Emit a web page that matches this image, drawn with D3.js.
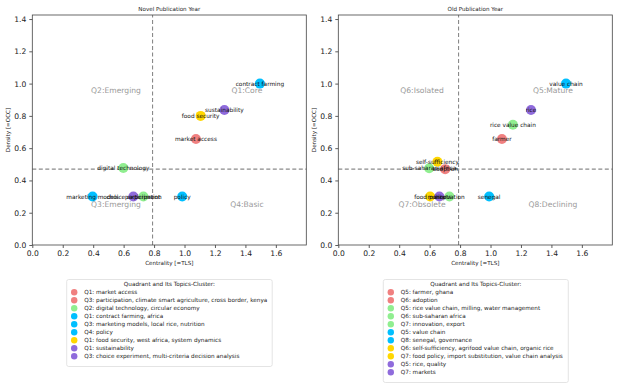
<!DOCTYPE html>
<html>
<head>
<meta charset="utf-8">
<script src="https://cdn.jsdelivr.net/npm/d3@7/dist/d3.min.js"></script>
<style>
  body { margin: 0; background: #fff; }
  svg text { font-family: "DejaVu Sans", sans-serif; }
</style>
</head>
<body>
<script>
// ---- data: Novel Publication Year ----
const novelLabels = ['market access', 'participation', 'digital technology', 'contract farming',
  'marketing models', 'policy', 'food security', 'sustainability', 'choice experiment'];
const novelX = [1.075, 0.73, 0.598, 1.495, 0.396, 0.985, 1.106, 1.262, 0.664];
const novelY = [0.657, 0.30, 0.477, 1.0, 0.30, 0.30, 0.80, 0.836, 0.30];
const novelGroup = ['red', 'green', 'green', 'blue', 'blue', 'blue', 'gold', 'purple', 'purple'];
const novelLegend = ['Q1: market access', 'Q3: participation, climate smart agriculture, cross border, kenya',
  'Q2: digital technology, circular economy', 'Q1: contract farming, africa',
  'Q3: marketing models, local rice, nutrition', 'Q4: policy',
  'Q1: food security, west africa, system dynamics', 'Q1: sustainability',
  'Q3: choice experiment, multi-criteria decision analysis'];
const novelLegendGroup = ['red', 'red', 'green', 'blue', 'blue', 'blue', 'gold', 'purple', 'purple'];
const novelQuads = ['Q2:Emerging', 'Q1:Core', 'Q3:Emerging', 'Q4:Basic'];

// ---- data: Old Publication Year ----
const oldLabels = ['farmer', 'adoption', 'rice value chain', 'sub-saharan africa', 'innovation',
  'value chain', 'senegal', 'self-sufficiency', 'food policy', 'rice', 'markets'];
const oldX = [1.075, 0.702, 1.147, 0.597, 0.73, 1.496, 0.991, 0.651, 0.603, 1.266, 0.664];
const oldY = [0.657, 0.47, 0.745, 0.475, 0.30, 1.0, 0.30, 0.516, 0.30, 0.836, 0.30];
const oldGroup = ['red', 'red', 'green', 'green', 'green', 'blue', 'blue', 'gold', 'gold', 'purple', 'purple'];
const oldLegend = ['Q5: farmer, ghana', 'Q6: adoption', 'Q5: rice value chain, milling, water management',
  'Q6: sub-saharan africa', 'Q7: innovation, export', 'Q5: value chain', 'Q8: senegal, governance',
  'Q6: self-sufficiency, agrifood value chain, organic rice',
  'Q7: food policy, import substitution, value chain analysis', 'Q5: rice, quality', 'Q7: markets'];
const oldLegendGroup = ['red', 'red', 'green', 'green', 'green', 'blue', 'blue', 'gold', 'gold', 'purple', 'purple'];
const oldQuads = ['Q6:Isolated', 'Q5:Mature', 'Q7:Obsolete', 'Q8:Declining'];

const xTicks = [0, 0.2, 0.4, 0.6, 0.8, 1.0, 1.2, 1.4, 1.6];
const yTicks = [0, 0.2, 0.4, 0.6, 0.8, 1.0, 1.2, 1.4];
const xSplit = 0.79, ySplit = 0.47;

const color = d3.scaleOrdinal()
  .domain(['red', 'green', 'blue', 'gold', 'purple'])
  .range(['#f08080', '#90ee90', '#00bfff', '#ffd700', '#8f6bdc']);

const svg = d3.select('body').append('svg')
  .attr('width', 620)
  .attr('height', 385);

function drawPanel(p) {
  const x = d3.scaleLinear().domain([0, 1.8]).range([p.left, p.left + 274]);
  const y = d3.scaleLinear().domain([0, 1.425]).range([245, 15]);
  const g = svg.append('g');

  // dashed split lines
  g.append('line')
    .attr('x1', x(xSplit)).attr('x2', x(xSplit))
    .attr('y1', y(0)).attr('y2', y(1.425))
    .attr('stroke', '#8a8a8a').attr('stroke-width', 1.1).attr('stroke-dasharray', '4,2.5');
  g.append('line')
    .attr('x1', x(0)).attr('x2', x(1.8))
    .attr('y1', y(ySplit)).attr('y2', y(ySplit))
    .attr('stroke', '#8a8a8a').attr('stroke-width', 1.1).attr('stroke-dasharray', '4,2.5');

  // quadrant names
  const qPos = [[0.55, 0.96], [1.41, 0.96], [0.55, 0.25], [1.41, 0.25]];
  g.selectAll('.quad').data(p.quads).enter().append('text')
    .attr('x', (d, i) => x(qPos[i][0]))
    .attr('y', (d, i) => y(qPos[i][1]))
    .attr('text-anchor', 'middle').attr('dominant-baseline', 'central')
    .attr('font-size', 7.6).attr('fill', '#999')
    .text(d => d);

  const pts = p.labels.map((l, i) => ({ l, x: p.xs[i], y: p.ys[i], c: p.group[i] }));
  g.selectAll('circle.pt').data(pts).enter().append('circle')
    .attr('class', 'pt')
    .attr('cx', d => x(d.x)).attr('cy', d => y(d.y))
    .attr('r', 5)
    .attr('fill', d => color(d.c));
  g.selectAll('.lbl').data(pts).enter().append('text')
    .attr('x', d => x(d.x)).attr('y', d => y(d.y))
    .attr('text-anchor', 'middle').attr('dominant-baseline', 'central')
    .attr('font-size', 5.8).attr('fill', '#111')
    .text(d => d.l);

  // axes
  const xAxis = g.append('g').attr('transform', 'translate(0,245)')
    .call(d3.axisBottom(x).tickValues(xTicks).tickFormat(d3.format('.1f')).tickSize(3).tickSizeOuter(0));
  const yAxis = g.append('g').attr('transform', `translate(${p.left},0)`)
    .call(d3.axisLeft(y).tickValues(yTicks).tickFormat(d3.format('.1f')).tickSize(3).tickSizeOuter(0));
  [xAxis, yAxis].forEach(a => {
    a.selectAll('text').attr('font-size', 7.6).attr('fill', '#222');
    a.selectAll('line').attr('stroke', '#333').attr('stroke-width', 0.8);
    a.select('.domain').remove();
  });
  g.append('rect')
    .attr('x', x(0)).attr('y', y(1.425))
    .attr('width', x(1.8) - x(0)).attr('height', y(0) - y(1.425))
    .attr('fill', 'none').attr('stroke', '#444').attr('stroke-width', 0.8);

  g.append('text')
    .attr('x', (x(0) + x(1.8)) / 2).attr('y', 11)
    .attr('text-anchor', 'middle').attr('font-size', 5.6).attr('fill', '#222')
    .text(p.title);
  g.append('text')
    .attr('x', (x(0) + x(1.8)) / 2).attr('y', 265)
    .attr('text-anchor', 'middle').attr('font-size', 5.6).attr('fill', '#222')
    .text('Centrality [=TLS]');
  g.append('text')
    .attr('transform', `translate(${p.left - 22},${y(0.7125)}) rotate(-90)`)
    .attr('text-anchor', 'middle').attr('font-size', 5.6).attr('fill', '#222')
    .text('Density [=OCC]');

  // legend
  const lg = svg.append('g');
  const rows = p.legend.length;
  lg.append('rect')
    .attr('x', p.legX).attr('y', 279.5)
    .attr('width', p.legW).attr('height', 15 + rows * 8)
    .attr('rx', 2).attr('fill', '#fff').attr('stroke', '#ddd').attr('stroke-width', 0.8);
  lg.append('text')
    .attr('x', p.legX + p.legW / 2).attr('y', 286)
    .attr('text-anchor', 'middle').attr('font-size', 5.7).attr('fill', '#222')
    .text('Quadrant and Its Topics-Cluster:');
  const items = lg.selectAll('.item').data(p.legend).enter().append('g')
    .attr('transform', (d, i) => `translate(${p.legX},${292.3 + i * 8})`);
  items.append('circle')
    .attr('cx', 7.5).attr('cy', 0).attr('r', 3.2)
    .attr('fill', (d, i) => color(p.legendGroup[i]));
  items.append('text')
    .attr('x', 17.5).attr('y', 0).attr('dominant-baseline', 'central')
    .attr('font-size', 5.7).attr('fill', '#222')
    .text(d => d);
}

drawPanel({ left: 32.3, title: 'Novel Publication Year', labels: novelLabels, xs: novelX, ys: novelY,
  group: novelGroup, legend: novelLegend, legendGroup: novelLegendGroup, quads: novelQuads,
  legX: 66.7, legW: 205.5 });
drawPanel({ left: 338.3, title: 'Old Publication Year', labels: oldLabels, xs: oldX, ys: oldY,
  group: oldGroup, legend: oldLegend, legendGroup: oldLegendGroup, quads: oldQuads,
  legX: 383.3, legW: 185 });
</script>
</body>
</html>
